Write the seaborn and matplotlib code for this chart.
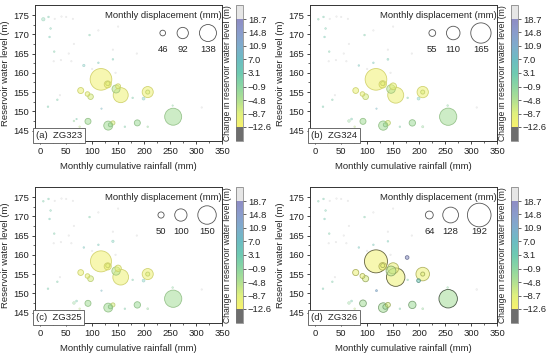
import numpy as np
import pandas as pd
import seaborn as sns
import matplotlib.pyplot as plt
from matplotlib.colors import LinearSegmentedColormap, Normalize

# monthly records (shared by all four monitoring points)
rain = [117, 130, 130, 78, 91, 97, 146, 150, 155, 207, 207, 199, 256, 131, 135, 140, 92, 187,
        84, 6, 20, 18, 27, 26, 40, 55, 50, 16, 28, 41, 63, 65, 95, 112, 112, 150, 60,
        15, 38, 33, 65, 70, 76, 163, 207, 178, 311, 118, 140, 186, 100, 140, 145, 255]
level = [158.3, 157.0, 157.2, 155.4, 154.5, 153.8, 155.8, 156.5, 154.2, 155.0, 155.0, 153.3, 148.6,
         146.3, 146.5, 147.0, 147.4, 147.0,
         161.9, 173.9, 171.5, 169.3, 165.5, 163.0, 163.3, 165.0, 174.5, 174.5, 174.0, 174.6, 174.0,
         167.5, 169.8, 162.6, 171.0, 172.0, 163.0, 151.2, 154.2, 153.0, 147.5, 148.0, 146.0,
         146.0, 146.0, 153.5, 151.0, 150.7, 166.0, 165.0, 161.0, 163.5, 160.0, 151.5]
dlevel = [-11.5, -11.0, -9.5, -10.5, -10.0, -8.0, -5.5, -10.5, -11.0, -11.0, -9.0, 4.0, -3.5,
          -3.5, -3.0, -8.0, -3.5, -3.0,
          5.0, 1.0, 2.0, 3.0, 1.0, 20.0, 20.0, 20.0, 20.0, 2.0, 20.0, 20.0, 20.0,
          20.0, 1.0, 4.0, 20.0, 20.0, 20.0, 2.0, 20.0, 1.0, -2.0, 2.0, -6.0,
          1.0, -2.0, 1.0, 20.0, 8.0, 20.0, 20.0, 20.0, 3.0, 20.0, -1.0]
disp_a = [176, 57, 33, 49, 37, 45, 65, 40, 122, 90, 33, 24, 138, 73, 33, 33, 49, 49,
          20, 28, 14, 14, 14, 12, 12, 12, 12, 14, 12, 12, 12, 12, 14, 14, 12, 12, 12,
          14, 12, 14, 14, 12, 14, 14, 14, 14, 12, 12, 12, 12, 12, 14, 12, 12]
disp_b = [176, 60, 33, 47, 37, 47, 70, 55, 130, 92, 33, 24, 140, 75, 33, 40, 49, 52,
          14, 14, 14, 14, 14, 12, 12, 12, 12, 14, 12, 12, 12, 12, 14, 14, 12, 12, 12,
          14, 12, 14, 22, 16, 14, 14, 18, 14, 12, 12, 12, 12, 12, 16, 12, 14]
disp_c = [171, 58, 33, 47, 37, 47, 68, 52, 128, 90, 33, 24, 140, 72, 33, 33, 49, 52,
          14, 14, 14, 14, 14, 12, 12, 12, 12, 14, 12, 12, 12, 12, 14, 14, 12, 12, 12,
          14, 12, 14, 22, 16, 14, 14, 16, 14, 12, 12, 12, 12, 12, 20, 12, 14]
disp_d = [187, 62, 33, 50, 40, 50, 80, 90, 150, 110, 33, 30, 150, 78, 40, 40, 55, 60,
          14, 14, 14, 14, 14, 12, 12, 12, 12, 14, 12, 12, 12, 12, 14, 14, 12, 12, 12,
          14, 12, 14, 22, 16, 14, 14, 16, 14, 14, 16, 12, 12, 12, 14, 12, 14]
disps = [disp_a, disp_b, disp_c, disp_d]
# two extra months visible only in (d)
extra_rain = [177, 118]
extra_level = [159.3, 150.7]
extra_dlevel = [17.0, 15.0]
extra_disp = [30, 16]
panel_labels = ['(a)  ZG323', '(b)  ZG324', '(c)  ZG325', '(d)  ZG326']
legend_values = [[46, 92, 138], [55, 110, 165], [50, 100, 150], [64, 128, 192]]
cbar_ticks = [-12.6, -8.7, -4.8, -0.9, 3.1, 7.0, 10.9, 14.8, 18.7]
cbar_colors = ['#f8f26c', '#dff07e', '#b0e092', '#8cd6a2', '#6ecab2', '#6cbcc2',
               '#7eaccc', '#8a9ccc', '#8e8cc4']

cmap = LinearSegmentedColormap.from_list('wl', cbar_colors)
cmap.set_under('#6e6e6e')
cmap.set_over('#e6e6e6')
norm = Normalize(vmin=-12.6, vmax=18.7)

K = 0.123 * 0.72  # marker diameter in points per mm of displacement


def msize(v):
    return (K * np.asarray(v, dtype=float)) ** 2


sns.set_style('ticks')
plt.rcParams['font.family'] = ['Liberation Sans', 'DejaVu Sans']
plt.rcParams['axes.unicode_minus'] = True
fig = plt.figure(figsize=(5.5, 3.56), dpi=100)

lefts = [35, 310, 35, 310]
tops = [5, 5, 187, 187]
W, H = 550.0, 356.0
fs = 6.8

for i in range(4):
    x0, t0 = lefts[i], tops[i]
    ax = fig.add_axes([x0 / W, 1 - (t0 + 136) / H, 187 / W, 136 / H])
    cax = fig.add_axes([(x0 + 201) / W, 1 - (t0 + 136) / H, 7 / W, 136 / H])

    r, lv, dl, dp = list(rain), list(level), list(dlevel), list(disps[i])
    if i == 3:
        r += extra_rain; lv += extra_level; dl += extra_dlevel; dp += extra_disp
    df = pd.DataFrame({'rain': r, 'level': lv, 'dlevel': dl, 'disp': dp})
    df['ms'] = msize(df['disp'])
    df = df.sort_values('ms', ascending=False)
    smin, smax = df['ms'].min(), df['ms'].max()
    sns.scatterplot(data=df, x='rain', y='level', hue='dlevel', palette=cmap, hue_norm=norm,
                    size='ms', sizes=(smin, smax), size_norm=(smin, smax), legend=False,
                    ax=ax, linewidth=0.6, zorder=3)
    coll = ax.collections[-1]
    fc = np.array(coll.get_facecolors())
    ec = fc.copy()
    d = df['disp'].to_numpy()
    big = d >= 30
    if i == 3:
        dark = np.where(d >= 140, 0.3, np.where(big, 0.7, 0.9))
    else:
        dark = np.where(big, 0.85, 0.9)
    ec[:, :3] = ec[:, :3] * dark[:, None]
    ec[:, 3] = np.where(big, 0.85, 0.45)
    fc[:, 3] = np.where(big, 0.55, 0.35)
    coll.set_facecolors(fc)
    coll.set_edgecolors(ec)
    coll.set_linewidths(np.where(big, 0.6, 0.4))

    ax.set_xlim(-10, 350)
    ax.set_ylim(142.3, 177.6)
    ax.set_xticks(range(0, 351, 50))
    ax.set_yticks(range(145, 176, 5))
    ax.set_xticks(range(25, 351, 50), minor=True)
    ax.set_yticks(np.arange(147.5, 177, 5), minor=True)
    ax.tick_params(labelsize=fs, length=2.5, width=0.6, pad=2, colors='#222222')
    ax.tick_params(which='minor', length=1.5, width=0.5)
    for s in ax.spines.values():
        s.set_visible(True)
        s.set_linewidth(0.7)
        s.set_color('#333333')
    ax.set_xlabel('Monthly cumulative rainfall (mm)', fontsize=fs, labelpad=4)
    ax.set_ylabel('Reservoir water level (m)', fontsize=fs, labelpad=2)
    ax.set_facecolor('white')

    # panel tag
    ax.text(0.004, 0.006, panel_labels[i], transform=ax.transAxes, fontsize=fs,
            ha='left', va='bottom', zorder=5,
            bbox=dict(boxstyle='square,pad=0.3', fc='white', ec='#555555', lw=0.6))

    # size legend
    ax.text(0.685, 0.92, 'Monthly displacement (mm)', transform=ax.transAxes,
            fontsize=fs, ha='center', va='center')
    lx = [[0.683, 0.79, 0.925], [0.654, 0.766, 0.914],
          [0.674, 0.78, 0.92], [0.638, 0.752, 0.905]][i]
    ax.scatter(lx, [0.794] * 3, s=msize(legend_values[i]), transform=ax.transAxes,
               facecolors='none', edgecolors='#555555', linewidths=0.6, zorder=4)
    for xx, v in zip(lx, legend_values[i]):
        ax.text(xx, 0.67, str(v), transform=ax.transAxes, fontsize=fs,
                ha='center', va='center')

    # colorbar
    sm = plt.cm.ScalarMappable(norm=norm, cmap=cmap)
    cb = fig.colorbar(sm, cax=cax, extend='both', extendrect=True, extendfrac=0.13,
                      ticks=cbar_ticks)
    cb.outline.set_linewidth(0.5)
    cb.outline.set_edgecolor('#777777')
    cb.ax.set_yticklabels([f'{t:.1f}'.replace('-', '\u2212') for t in cbar_ticks])
    cb.ax.tick_params(labelsize=fs, length=2, width=0.5, pad=1.5, direction='out')
    cb.ax.yaxis.set_label_position('left')
    cb.set_label('Change in reservoir water level (m)', fontsize=6.2, labelpad=3)

fig.savefig('out.png', dpi=100)
